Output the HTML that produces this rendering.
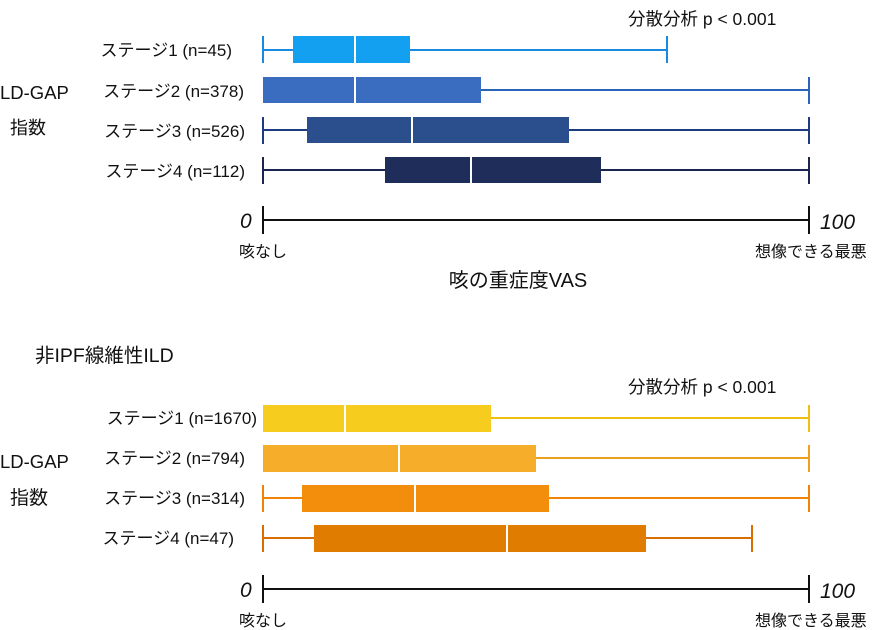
<!DOCTYPE html>
<html><head><meta charset="utf-8"><style>
body{margin:0;background:#fff;width:882px;height:630px;overflow:hidden}
svg{display:block}
text{font-family:"Liberation Sans","Noto Sans CJK JP",sans-serif;fill:#111}
</style></head><body>
<svg width="882" height="630" viewBox="0 0 882 630">
<text x="628" y="25" font-size="17.5">分散分析 p &lt; 0.001</text>
<text x="0" y="99" font-size="18.5">LD-GAP</text>
<text x="10" y="134" font-size="18">指数</text>
<g font-size="17" text-anchor="end">
<text x="232" y="56">ステージ1 (n=45)</text>
<text x="244" y="97">ステージ2 (n=378)</text>
<text x="245" y="137">ステージ3 (n=526)</text>
<text x="245" y="177">ステージ4 (n=112)</text>
</g>
<g stroke-width="2">
<g stroke="#1a8ae0"><line x1="263" y1="50" x2="667" y2="50"/><line x1="263" y1="36" x2="263" y2="63"/><line x1="667" y1="36" x2="667" y2="63"/></g>
<rect x="293" y="36" width="117" height="27" fill="#14a0f0"/><line x1="355" y1="36" x2="355" y2="63" stroke="#fff"/>
<g stroke="#2a64b8"><line x1="263" y1="90" x2="809" y2="90"/><line x1="809" y1="77" x2="809" y2="104"/></g>
<rect x="263" y="77" width="218" height="26" fill="#3a6cc0"/><line x1="355" y1="77" x2="355" y2="103" stroke="#fff"/>
<g stroke="#1e3a80"><line x1="263" y1="130" x2="809" y2="130"/><line x1="263" y1="117" x2="263" y2="144"/><line x1="809" y1="117" x2="809" y2="144"/></g>
<rect x="307" y="117" width="262" height="26" fill="#2a4f8c"/><line x1="412" y1="117" x2="412" y2="143" stroke="#fff"/>
<g stroke="#1a2550"><line x1="263" y1="170" x2="809" y2="170"/><line x1="263" y1="157" x2="263" y2="184"/><line x1="809" y1="157" x2="809" y2="184"/></g>
<rect x="385" y="157" width="216" height="26" fill="#1f2d5a"/><line x1="471" y1="157" x2="471" y2="183" stroke="#fff"/>
<g stroke="#111"><line x1="263" y1="220" x2="809" y2="220"/><line x1="263" y1="206" x2="263" y2="234"/><line x1="809" y1="206" x2="809" y2="234"/></g>
</g>
<text x="240" y="228" font-size="21" font-style="italic">0</text>
<text x="820" y="229" font-size="21" font-style="italic">100</text>
<text x="239" y="257" font-size="16">咳なし</text>
<text x="755" y="257" font-size="16">想像できる最悪</text>
<text x="518" y="287" font-size="20" text-anchor="middle">咳の重症度VAS</text>

<text x="35" y="362" font-size="19.5">非IPF線維性ILD</text>
<text x="628" y="393" font-size="17.5">分散分析 p &lt; 0.001</text>
<text x="0" y="468" font-size="18.5">LD-GAP</text>
<text x="10" y="504" font-size="19">指数</text>
<g font-size="17" text-anchor="end">
<text x="257" y="424">ステージ1 (n=1670)</text>
<text x="245" y="464">ステージ2 (n=794)</text>
<text x="245" y="504">ステージ3 (n=314)</text>
<text x="234" y="544">ステージ4 (n=47)</text>
</g>
<g stroke-width="2">
<g stroke="#f0c010"><line x1="263" y1="418" x2="809" y2="418"/><line x1="809" y1="405" x2="809" y2="432"/></g>
<rect x="263" y="405" width="228" height="27" fill="#f6cc1e"/><line x1="345" y1="405" x2="345" y2="432" stroke="#fff"/>
<g stroke="#f0a020"><line x1="263" y1="458" x2="809" y2="458"/><line x1="809" y1="445" x2="809" y2="472"/></g>
<rect x="263" y="445" width="273" height="27" fill="#f6ae2a"/><line x1="399" y1="445" x2="399" y2="472" stroke="#fff"/>
<g stroke="#ef8405"><line x1="263" y1="498" x2="809" y2="498"/><line x1="263" y1="485" x2="263" y2="512"/><line x1="809" y1="485" x2="809" y2="512"/></g>
<rect x="302" y="485" width="247" height="27" fill="#f38d0c"/><line x1="415" y1="485" x2="415" y2="512" stroke="#fff"/>
<g stroke="#d86e00"><line x1="263" y1="538" x2="752" y2="538"/><line x1="263" y1="525" x2="263" y2="552"/><line x1="752" y1="525" x2="752" y2="552"/></g>
<rect x="314" y="525" width="332" height="27" fill="#e07c00"/><line x1="507" y1="525" x2="507" y2="552" stroke="#fff"/>
<g stroke="#111"><line x1="263" y1="589" x2="809" y2="589"/><line x1="263" y1="575" x2="263" y2="603"/><line x1="809" y1="575" x2="809" y2="603"/></g>
</g>
<text x="240" y="597" font-size="21" font-style="italic">0</text>
<text x="820" y="598" font-size="21" font-style="italic">100</text>
<text x="239" y="626" font-size="16">咳なし</text>
<text x="755" y="626" font-size="16">想像できる最悪</text>
</svg>
</body></html>
